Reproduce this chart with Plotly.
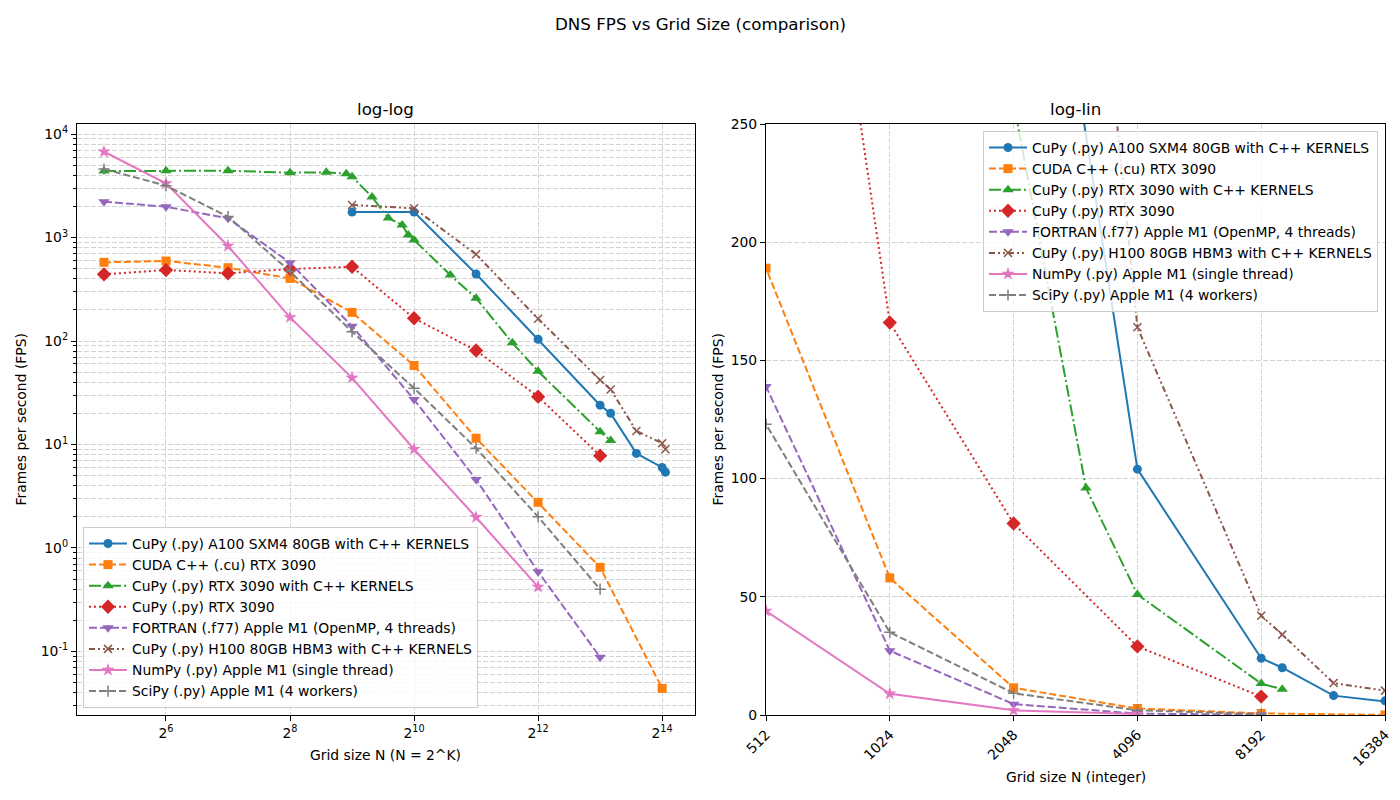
import math
import plotly.graph_objects as go

# ---------------- data ----------------
N_A100 = [512, 1024, 2048, 4096, 8192, 9216, 12288, 16384, 17000]
FPS_A100 = [1760, 1760, 444, 104, 24, 20, 8.2, 6.0, 5.4]

N_CUDA = [32, 64, 128, 256, 512, 1024, 2048, 4096, 8192, 16384]
FPS_CUDA = [576, 593, 511, 403, 189, 58, 11.5, 2.76, 0.65, 0.044]

N_RTXK = [32, 64, 128, 256, 384, 480, 512, 640, 768, 896, 960, 1024, 1536, 2048, 3072, 4096, 8192, 9216]
FPS_RTXK = [4390, 4420, 4420, 4230, 4265, 4140, 3870, 2470, 1540, 1321, 1057, 946, 434, 259, 96, 51, 13.3, 10.9]

N_RTX = [32, 64, 128, 256, 512, 1024, 2048, 4096, 8192]
FPS_RTX = [441, 485, 451, 496, 522, 166, 81, 29, 7.8]

N_F77 = [32, 64, 128, 256, 512, 1024, 2048, 4096, 8192]
FPS_F77 = [2220, 1985, 1535, 571, 139, 27.2, 4.6, 0.59, 0.088]

N_H100 = [512, 1024, 2048, 4096, 8192, 9216, 12288, 16384, 17000]
FPS_H100 = [2061, 1915, 688, 164, 42, 34, 13.5, 10.3, 9.0]

N_NUMPY = [32, 64, 128, 256, 512, 1024, 2048, 4096]
FPS_NUMPY = [6745, 3340, 828, 169, 44, 9.0, 1.98, 0.42]

N_SCIPY = [32, 64, 128, 256, 512, 1024, 2048, 4096, 8192]
FPS_SCIPY = [4590, 3170, 1589, 470, 123, 35, 9.2, 2.0, 0.40]

LABELS = [
    "CuPy (.py) A100 SXM4 80GB with C++ KERNELS",
    "CUDA C++ (.cu) RTX 3090",
    "CuPy (.py) RTX 3090 with C++ KERNELS",
    "CuPy (.py) RTX 3090",
    "FORTRAN (.f77) Apple M1 (OpenMP, 4 threads)",
    "CuPy (.py) H100 80GB HBM3 with C++ KERNELS",
    "NumPy (.py) Apple M1 (single thread)",
    "SciPy (.py) Apple M1 (4 workers)",
]

LEFT_XTICKS = [64, 256, 1024, 4096, 16384]
LEFT_XTICKTEXT = ["2<sup>6</sup>", "2<sup>8</sup>", "2<sup>10</sup>", "2<sup>12</sup>", "2<sup>14</sup>"]
LEFT_YTICKS = [0.1, 1, 10, 100, 1000, 10000]
LEFT_YTICKTEXT = ["10<sup>-1</sup>", "10<sup>0</sup>", "10<sup>1</sup>", "10<sup>2</sup>", "10<sup>3</sup>", "10<sup>4</sup>"]
RIGHT_XTICKS = [512, 1024, 2048, 4096, 8192, 16384]
RIGHT_XTICKTEXT = ["512", "1024", "2048", "4096", "8192", "16384"]
RIGHT_YTICKS = [0, 50, 100, 150, 200, 250]

# ---------------- styles ----------------
series = [
    (N_A100, FPS_A100, "#1f77b4", "solid", "circle", 9),
    (N_CUDA, FPS_CUDA, "#ff7f0e", "7px,3px", "square", 9),
    (N_RTXK, FPS_RTXK, "#2ca02c", "12px,3px,2px,3px", "triangle-up", 10),
    (N_RTX, FPS_RTX, "#d62728", "2px,3px", "diamond", 11),
    (N_F77, FPS_F77, "#9467bd", "8px,3px", "triangle-down", 10),
    (N_H100, FPS_H100, "#8c564b", "6px,3px,2px,3px,2px,3px", "x-thin", 8),
    (N_NUMPY, FPS_NUMPY, "#e377c2", "solid", "star", 10),
    (N_SCIPY, FPS_SCIPY, "#7f7f7f", "7px,3px", "cross-thin", 8),
]

FONT = "DejaVu Sans"
FS = 13.9
fig = go.Figure()

for i, (xs, ys, col, dash, sym, sz) in enumerate(series):
    mk = dict(symbol=sym, size=sz, color=col, line=dict(color=col, width=1.5 if "thin" in sym else 0))
    fig.add_trace(go.Scatter(x=xs, y=ys, mode="lines+markers", name=LABELS[i],
                             line=dict(color=col, width=2, dash=dash), marker=mk,
                             xaxis="x", yaxis="y", legend="legend"))
    fig.add_trace(go.Scatter(x=xs, y=ys, mode="lines+markers", name=LABELS[i],
                             line=dict(color=col, width=2, dash=dash), marker=mk,
                             xaxis="x2", yaxis="y2", legend="legend2"))

W, H = 1400, 800
L1, R1 = 77, 695
L2, R2 = 766, 1385
TOP, BOT = 124, 715

def px(x):
    return x / W

def py(y):
    return 1 - y / H

grid = dict(showgrid=True, gridcolor="#d4d4d4", gridwidth=1, griddash="5px,2px")
axis_common = dict(showline=True, linecolor="black", linewidth=1.1, mirror=True,
                   ticks="outside", ticklen=5, tickwidth=1.1, tickcolor="black",
                   tickfont=dict(family=FONT, size=FS, color="black"),
                   zeroline=False, automargin=False, **grid)

minor_y = []
for k in range(-2, 5):
    for m in range(2, 10):
        minor_y.append(m * 10 ** k)

legend_common = dict(bgcolor="rgba(255,255,255,0.8)", bordercolor="#cccccc", borderwidth=1,
                     font=dict(family=FONT, size=FS, color="black"), tracegroupgap=0,
                     itemwidth=38)

fig.update_layout(
    width=W, height=H, template="none",
    margin=dict(l=0, r=0, t=0, b=0),
    paper_bgcolor="white", plot_bgcolor="white",
    font=dict(family=FONT, size=FS, color="black"),
    xaxis=dict(domain=[px(L1), px(R1)], type="log",
               range=[4.565 * math.log10(2), 14.53 * math.log10(2)],
               tickmode="array", tickvals=LEFT_XTICKS, ticktext=LEFT_XTICKTEXT,
               anchor="y", **axis_common),
    yaxis=dict(domain=[py(BOT), py(TOP)], type="log", range=[-1.614, 4.097],
               tickmode="array", tickvals=LEFT_YTICKS, ticktext=LEFT_YTICKTEXT,
               minor=dict(tickmode="array", tickvals=minor_y, ticks="outside", ticklen=3,
                          tickcolor="black", showgrid=True, gridcolor="#d4d4d4", griddash="5px,2px"),
               anchor="x", **axis_common),
    xaxis2=dict(domain=[px(L2), px(R2)], type="log",
                range=[math.log10(512), math.log10(16384)],
                tickmode="array", tickvals=RIGHT_XTICKS, ticktext=RIGHT_XTICKTEXT,
                tickangle=-45, anchor="y2", **axis_common),
    yaxis2=dict(domain=[py(BOT), py(TOP)], range=[0, 250], tickmode="array",
                tickvals=RIGHT_YTICKS, anchor="x2", **axis_common),
    legend=dict(x=px(83), y=py(708), xanchor="left", yanchor="bottom", **legend_common),
    legend2=dict(x=px(1378), y=py(131), xanchor="right", yanchor="top", **legend_common),
    showlegend=True,
)

ann = [
    dict(text="DNS FPS vs Grid Size (comparison)", x=0.5, y=py(24), size=16.7, angle=0),
    dict(text="log-log", x=px((L1 + R1) / 2), y=py(109), size=16.7, angle=0),
    dict(text="log-lin", x=px((L2 + R2) / 2), y=py(109), size=16.7, angle=0),
    dict(text="Grid size N (N = 2^K)", x=px((L1 + R1) / 2), y=py(755), size=FS, angle=0),
    dict(text="Grid size N (integer)", x=px((L2 + R2) / 2), y=py(777), size=FS, angle=0),
    dict(text="Frames per second (FPS)", x=px(20), y=py((TOP + BOT) / 2), size=FS, angle=-90),
    dict(text="Frames per second (FPS)", x=px(717), y=py((TOP + BOT) / 2), size=FS, angle=-90),
]
for a in ann:
    fig.add_annotation(text=a["text"], x=a["x"], y=a["y"], xref="paper", yref="paper",
                       showarrow=False, xanchor="center", yanchor="middle", textangle=a["angle"],
                       font=dict(family=FONT, size=a["size"], color="black"))

fig.write_html("out.html")
